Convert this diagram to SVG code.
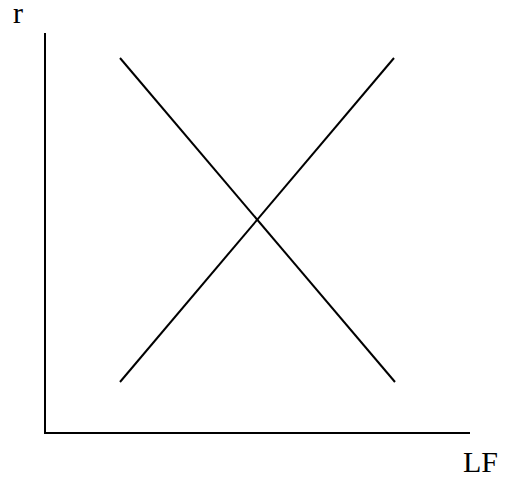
<svg xmlns="http://www.w3.org/2000/svg" width="512" height="477" viewBox="0 0 512 477">
<style>
.ln{stroke:#000;stroke-width:2;fill:none}
.t{font-family:"Liberation Serif",serif;font-size:30px;fill:#000}
</style>
<rect width="512" height="477" fill="#fff"/>
<g id="axes">
<path class="ln" d="M45,33 V433 H470"/>
</g>
<g id="connectors">
<line id="demand" class="ln" x1="120" y1="58" x2="395" y2="382"/>
<line id="supply" class="ln" x1="120" y1="382" x2="394" y2="58"/>
</g>
<g id="label-r"><text class="t" x="13" y="23">r</text></g>
<g id="label-LF"><text class="t" x="463" y="472">LF</text></g>
</svg>
